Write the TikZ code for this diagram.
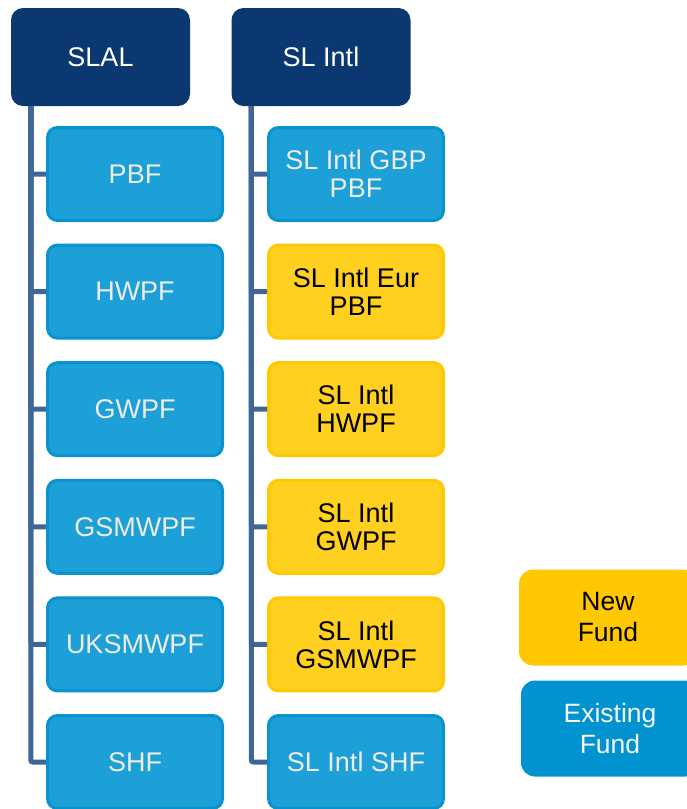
\documentclass[tikz,border=0pt]{standalone}
\usepackage{fontspec}
\setmainfont{Liberation Sans}
\usetikzlibrary{positioning}

\definecolor{navy}{HTML}{0B3870}
\definecolor{fundblue}{HTML}{1D9FD7}
\definecolor{fundedge}{HTML}{0893CF}
\definecolor{newyellow}{HTML}{FFD020}
\definecolor{newedge}{HTML}{FFC800}
\definecolor{keyblue}{HTML}{0093CF}
\definecolor{linkblue}{HTML}{3F6697}

\begin{document}
\begin{tikzpicture}
	[x=1pt, y=-1pt,
	every node/.style={rounded corners=10pt, align=center, inner sep=2pt,
		font=\fontsize{27}{28}\selectfont, minimum width=175pt, minimum height=93pt},
	head/.style={fill=navy, text=white, minimum width=179pt, minimum height=98pt, rounded corners=12pt},
	fund/.style={fill=fundblue, draw=fundedge, line width=3pt, text=white!93!black},
	newfund/.style={fill=newyellow, draw=newedge, line width=3pt, text=black},
	key/.style={minimum width=178pt, minimum height=96pt, rounded corners=14pt,
		font=\fontsize{26.5}{31}\selectfont},
	link/.style={draw=linkblue, line width=5pt, rounded corners=2pt}]
	\useasboundingbox (0,0) rectangle (687,809);
	\clip (0,0) rectangle (687,809);
	% the two parents
	\node[head] (slal) at (100.5,57) {SLAL};
	\node[head] (slintl) at (321,57) {SL Intl};
	% SLAL funds
	\node[fund] (pbf) at (135,174) {PBF};
	\node[fund, below=21.6pt of pbf] (hwpf) {HWPF};
	\node[fund, below=21.6pt of hwpf] (gwpf) {GWPF};
	\node[fund, below=21.6pt of gwpf] (gsmwpf) {GSMWPF};
	\node[fund, below=21.6pt of gsmwpf] (uksmwpf) {UKSMWPF};
	\node[fund, below=21.6pt of uksmwpf] (shf) {SHF};
	% SL Intl funds
	\node[fund] (gbppbf) at (356,174) {SL Intl GBP\\PBF};
	\node[newfund, below=21.6pt of gbppbf] (eurpbf) {SL Intl Eur\\PBF};
	\node[newfund, below=21.6pt of eurpbf] (inthwpf) {SL Intl\\HWPF};
	\node[newfund, below=21.6pt of inthwpf] (intgwpf) {SL Intl\\GWPF};
	\node[newfund, below=21.6pt of intgwpf] (intgsmwpf) {SL Intl\\GSMWPF};
	\node[fund, below=21.6pt of intgsmwpf] (intshf) {SL Intl SHF};
	% connectors
	\foreach \f in {pbf,hwpf,gwpf,gsmwpf,uksmwpf,shf}
		\draw[link] ([xshift=20pt]slal.south west) |- (\f.west);
	\foreach \f in {gbppbf,eurpbf,inthwpf,intgwpf,intgsmwpf,intshf}
		\draw[link] ([xshift=20pt]slintl.south west) |- (\f.west);
	% legend
	\node[key, fill=newedge, text=black] (newkey) at (608,617.5) {New\\Fund};
	\node[key, fill=keyblue, text=white!96!black] (oldkey) at (610,728.5) {Existing\\Fund};
\end{tikzpicture}
\end{document}
